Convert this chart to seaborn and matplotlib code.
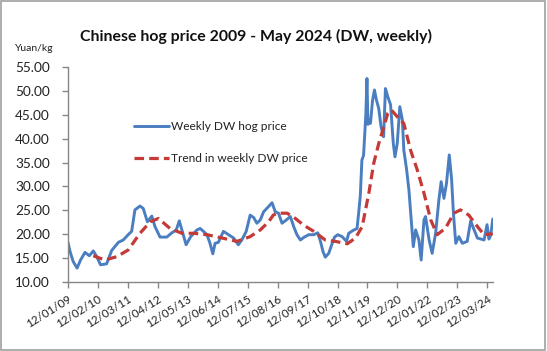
import pandas as pd
import matplotlib
matplotlib.use("Agg")
import matplotlib.pyplot as plt
from matplotlib.patches import Rectangle
import seaborn as sns

# ---- data ----
weekly_dates = [
    "2009-01-12", "2009-02-08", "2009-03-21", "2009-05-12", "2009-06-27", "2009-08-24",
    "2009-10-21", "2009-12-12", "2010-01-27", "2010-03-18", "2010-06-06", "2010-08-12",
    "2010-11-09", "2011-01-12", "2011-03-18", "2011-05-03", "2011-06-15", "2011-08-21",
    "2011-10-03", "2011-11-27", "2012-01-24", "2012-03-06", "2012-05-12", "2012-08-09",
    "2012-10-15", "2012-12-12", "2013-01-21", "2013-02-24", "2013-04-21", "2013-06-21",
    "2013-09-12", "2013-10-24", "2013-12-06", "2014-01-21", "2014-03-03", "2014-04-09",
    "2014-05-09", "2014-06-21", "2014-08-27", "2014-11-03", "2015-01-09", "2015-03-12",
    "2015-04-27", "2015-06-24", "2015-08-15", "2015-09-30", "2015-11-12", "2015-12-27",
    "2016-02-09", "2016-04-15", "2016-05-30", "2016-07-12", "2016-08-24", "2016-10-09",
    "2016-12-06", "2017-01-27", "2017-03-12", "2017-04-24", "2017-06-09", "2017-07-30",
    "2017-09-27", "2017-12-03", "2018-01-24", "2018-03-01", "2018-04-03", "2018-05-03",
    "2018-06-18", "2018-08-03", "2018-09-03", "2018-10-15", "2018-12-12", "2019-02-08",
    "2019-03-09", "2019-05-06", "2019-06-27", "2019-07-18", "2019-08-09", "2019-08-30",
    "2019-09-21", "2019-10-21", "2019-11-05", "2019-11-18", "2019-11-27", "2019-12-21",
    "2020-01-18", "2020-02-12", "2020-03-09", "2020-04-09", "2020-05-09", "2020-06-12",
    "2020-07-06", "2020-08-06", "2020-09-12", "2020-10-18", "2020-11-09", "2020-12-09",
    "2021-01-12", "2021-02-15", "2021-03-06", "2021-04-12", "2021-05-12", "2021-06-12",
    "2021-07-09", "2021-08-09", "2021-09-21", "2021-10-21", "2021-11-27", "2021-12-18",
    "2022-02-03", "2022-03-15", "2022-04-30", "2022-06-12", "2022-07-12", "2022-08-18",
    "2022-09-21", "2022-10-27", "2022-11-27", "2022-12-21", "2023-01-21", "2023-03-03",
    "2023-04-18", "2023-06-21", "2023-08-06", "2023-09-18", "2023-11-03", "2024-01-30",
    "2024-03-09", "2024-04-03", "2024-04-27", "2024-05-24",
]
weekly_price = [
    18.3, 16.4, 14.3, 12.9, 14.6, 16.2,
    15.5, 16.5, 15.3, 13.6, 13.8, 16.6,
    18.3, 18.8, 19.9, 20.6, 25.1, 25.9,
    25.4, 22.6, 23.8, 21.6, 19.4, 19.4,
    20.3, 20.9, 22.8, 20.9, 17.8, 19.5,
    20.9, 21.2, 20.6, 19.9, 18.1, 15.9,
    18.1, 18.3, 20.6, 19.9, 19.2, 17.8,
    18.8, 20.6, 24.0, 23.5, 22.3, 23.0,
    24.7, 25.8, 26.6, 24.7, 24.4, 22.3,
    23.0, 23.7, 21.6, 19.9, 18.8, 19.4,
    19.9, 19.9, 20.3, 18.5, 16.4, 15.2,
    16.0, 18.1, 19.4, 19.9, 19.5, 18.5,
    20.2, 20.8, 21.2, 24.4, 28.0, 35.5,
    36.5, 45.0, 52.6, 43.0, 43.9, 43.2,
    48.0, 50.2, 48.1, 46.3, 42.5, 40.4,
    50.5, 48.8, 47.1, 39.0, 36.2, 39.0,
    46.7, 43.9, 37.6, 33.5, 29.3, 23.0,
    17.4, 20.9, 18.8, 14.6, 23.0, 23.7,
    18.8, 16.0, 20.2, 27.2, 31.0, 27.5,
    30.7, 36.6, 31.5, 24.4, 18.1, 19.5,
    18.1, 18.5, 22.8, 21.0, 19.2, 18.8,
    22.0, 19.0, 19.8, 23.2,
]

trend_dates = [
    "2009-12-12", "2010-05-15", "2010-10-18", "2011-03-18", "2011-08-21", "2012-01-03",
    "2012-04-21", "2012-09-21", "2013-02-24", "2013-07-27", "2014-01-21", "2014-07-15",
    "2015-02-21", "2015-08-15", "2015-12-27", "2016-04-15", "2016-06-15", "2016-08-09",
    "2016-12-15", "2017-04-03", "2017-07-21", "2017-12-03", "2018-05-03", "2018-09-15",
    "2019-02-18", "2019-06-06", "2019-09-03", "2019-11-30", "2020-02-03", "2020-04-09",
    "2020-06-15", "2020-08-06", "2020-09-24", "2020-12-09", "2021-03-06", "2021-06-03",
    "2021-08-30", "2021-11-27", "2022-02-24", "2022-05-21", "2022-09-09", "2022-12-27",
    "2023-03-24", "2023-07-12", "2023-11-03", "2024-01-30", "2024-05-24",
]
trend_price = [
    15.5, 14.6, 15.3, 16.7, 20.2, 22.6,
    23.3, 21.2, 20.2, 20.2, 19.9, 19.3,
    18.5, 19.5, 20.9, 22.6, 24.0, 24.4,
    24.4, 23.3, 21.9, 20.6, 18.8, 18.5,
    18.0, 19.2, 21.6, 28.6, 34.9, 39.0,
    42.5, 45.3, 46.0, 44.6, 43.2, 37.6,
    33.5, 28.6, 23.0, 19.9, 21.3, 24.4,
    25.1, 24.0, 21.6, 19.9, 20.1,
]

x_tick_labels = ["12/01/09", "12/02/10", "12/03/11", "12/04/12", "12/05/13",
                 "12/06/14", "12/07/15", "12/08/16", "12/09/17", "12/10/18",
                 "12/11/19", "12/12/20", "12/01/22", "12/02/23", "12/03/24"]
y_ticks = [10, 15, 20, 25, 30, 35, 40, 45, 50, 55]

series_names = ["Weekly DW hog price", "Trend in weekly DW price"]
title = "Chinese hog price 2009 - May 2024 (DW, weekly)"
unit = "Yuan/kg"

# ---- build frames ----
df_w = pd.DataFrame({"date": pd.to_datetime(weekly_dates), "price": weekly_price})
df_t = pd.DataFrame({"date": pd.to_datetime(trend_dates), "price": trend_price})

sns.set_theme(style="white")
plt.rcParams["font.family"] = ["Lato", "DejaVu Sans"]

fig = plt.figure(figsize=(5.47, 3.51), dpi=100)
fig.patch.set_facecolor("white")
ax = fig.add_axes([0.1243, 0.1966, 0.7770, 0.6124])

blue = "#4a7ec0"
red = "#c43a37"

sns.lineplot(data=df_w, x="date", y="price", ax=ax, color=blue, linewidth=2.1,
             label=series_names[0])
sns.lineplot(data=df_t, x="date", y="price", ax=ax, color=red, linewidth=2.3,
             label=series_names[1], dashes=False)
ax.lines[1].set_dashes((3.0, 1.6))

ax.set_ylim(10, 55)
ax.set_yticks(y_ticks)
ax.set_yticklabels([f"{v:.2f}" for v in y_ticks], fontsize=9.8, color="#222222")

tick_pos = pd.to_datetime(x_tick_labels, format="%d/%m/%y")
ax.set_xlim(tick_pos[0], pd.Timestamp("2024-05-27"))
ax.set_xticks(tick_pos)
ax.set_xticklabels(x_tick_labels, rotation=32, ha="right", rotation_mode="anchor",
                   fontsize=8.4, color="#222222")

ax.set_xlabel("")
ax.set_ylabel("")
for s in ["top", "right"]:
    ax.spines[s].set_visible(False)
for s in ["left", "bottom"]:
    ax.spines[s].set_color("#868686")
    ax.spines[s].set_linewidth(1.0)
ax.tick_params(axis="y", which="major", direction="out", length=4, width=1,
               color="#868686", left=True, pad=9)
ax.tick_params(axis="x", which="major", direction="out", length=4, width=1,
               color="#868686", bottom=True, pad=4)
ax.grid(False)

leg = ax.legend(loc="upper left", bbox_to_anchor=(0.13, 0.80), frameon=False,
                fontsize=8.6, handlelength=2.9, handletextpad=0.2, labelspacing=1.75)
for t in leg.get_texts():
    t.set_color("#222222")

fig.text(0.468, 0.897, title, ha="center", va="center", fontsize=11.4,
         fontweight="bold", color="#111111")
fig.text(0.028, 0.862, unit, ha="left", va="center", fontsize=7.5, color="#222222")

fig.add_artist(Rectangle((0.002, 0.003), 0.994, 0.994, transform=fig.transFigure,
                         fill=False, edgecolor="#a0a0a0", linewidth=1.2))

fig.savefig("out.png", dpi=100)
